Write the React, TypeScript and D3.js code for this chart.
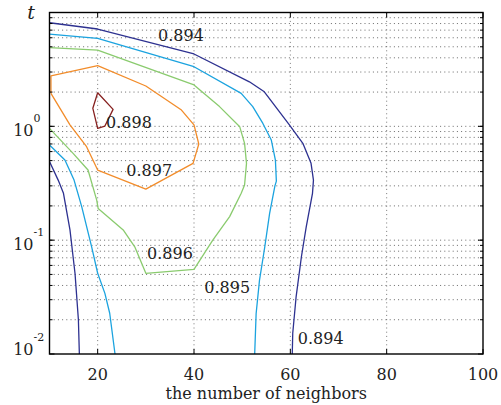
import React from "react";
import * as d3 from "d3";

const levels = ["0.894", "0.895", "0.896", "0.897", "0.898"];
const levelColors = ["#2d3190", "#1ba3df", "#8acb6e", "#f28c2a", "#86201f"];

// contour polylines: [neighbors, t]
const c894Top: [number, number][] = [
  [10, 8.13], [20, 7.16], [40, 4.32], [51.5, 2.46], [54.6, 2.01], [59.8, 1.03],
  [62.6, 0.709], [64.3, 0.473], [64.8, 0.337], [64.7, 0.294], [64.6, 0.258],
  [63.3, 0.131], [62.3, 0.0715], [61.2, 0.0318], [60.5, 0.0152], [60.4, 0.01],
];
const c894Left: [number, number][] = [
  [10, 0.49], [11.8, 0.337], [12.9, 0.258], [14.25, 0.123], [15.3, 0.051],
  [16.0, 0.02], [16.2, 0.01],
];
const c895Top: [number, number][] = [
  [10, 6.47], [20, 5.93], [40, 3.34], [49.8, 1.95], [52.2, 1.49], [54.3, 1.06],
  [56.05, 0.758], [56.9, 0.506], [57.1, 0.33], [56.8, 0.3], [55.7, 0.172],
  [54.7, 0.0875], [53.6, 0.0446], [52.9, 0.0227], [52.6, 0.01],
];
const c895Left: [number, number][] = [
  [10, 0.685], [13.2, 0.506], [15.1, 0.337], [16.7, 0.196], [18.75, 0.0874],
  [20, 0.0512], [21.5, 0.0341], [22.5, 0.0228], [23.6, 0.01],
];
const c896: [number, number][] = [
  [10, 4.91], [20, 4.68], [40, 2.31], [45.3, 1.49], [49.5, 0.99], [50.5, 0.709],
  [50.9, 0.473], [50.5, 0.305], [49.8, 0.258], [47.4, 0.161], [43.9, 0.1],
  [40, 0.0554], [30, 0.0511], [27.7, 0.0875], [25.3, 0.123], [20.1, 0.19],
  [19.8, 0.225], [18.0, 0.413], [14.9, 0.579], [10, 0.96],
];
const c897: [number, number][] = [
  [10.3, 1.95], [10.3, 2.77], [20, 3.41], [30, 2.26], [37.4, 1.39], [40, 1.03],
  [41, 0.699], [39.8, 0.473], [30, 0.281], [20, 0.413], [17.7, 0.662],
  [14.25, 1.03], [10.3, 1.95],
];
const c898: [number, number][] = [
  [20, 1.97], [19, 1.44], [20, 0.96], [21.5, 1.006], [23.2, 1.41], [20, 1.97],
];

const contourLines: { level: number; pts: [number, number][] }[] = [
  { level: 0, pts: c894Top },
  { level: 0, pts: c894Left },
  { level: 1, pts: c895Top },
  { level: 1, pts: c895Left },
  { level: 2, pts: c896 },
  { level: 3, pts: c897 },
  { level: 4, pts: c898 },
];

// contour labels: [neighbors, t, text]
const labelX = [37.3, 26.5, 30.7, 35, 46.9, 66.3];
const labelT = [5.62, 0.966, 0.366, 0.0682, 0.0343, 0.0122];
const labelText = ["0.894", "0.898", "0.897", "0.896", "0.895", "0.894"];

const xTicks = [20, 40, 60, 80, 100];
const xGrid = [20, 40, 60, 80];
const yMajor = [0.01, 0.1, 1];
const yExp = ["-2", "-1", "0"];

const W = 501, H = 405;
const L = 49.5, R = 483, T = 12.5, B = 354;
const FONT = "DejaVu Serif";

export default function App() {
  const x = d3.scaleLinear().domain([10, 100]).range([L, R]);
  const y = d3.scaleLog().domain([0.01, 10]).range([B, T]);
  const line = d3
    .line<[number, number]>()
    .x((d) => x(d[0]))
    .y((d) => y(d[1]));

  const minor: number[] = [];
  for (let d = -2; d <= 0; d++) {
    for (let k = 1; k <= 9; k++) {
      const v = k * Math.pow(10, d);
      if (v > 0.0100001) minor.push(v);
    }
  }

  return (
    <svg
      width={W}
      height={H}
      style={{ position: "absolute", left: 0, top: 0, background: "#fff" }}
      fontFamily={FONT}
    >
      <rect x={0} y={0} width={W} height={H} fill="#fff" />
      {/* horizontal grid */}
      {minor.map((v, i) => (
        <line
          key={"h" + i}
          x1={L}
          x2={R}
          y1={y(v)}
          y2={y(v)}
          stroke="#444"
          strokeWidth={0.8}
          strokeDasharray="1,3.2"
        />
      ))}
      {xGrid.map((v, i) => (
        <line
          key={"v" + i}
          x1={x(v)}
          x2={x(v)}
          y1={T}
          y2={B}
          stroke="#555"
          strokeWidth={0.8}
          strokeDasharray="1,3.2"
        />
      ))}
      {/* contours */}
      {contourLines.map((c, i) => (
        <path
          key={"c" + i}
          d={line(c.pts) || ""}
          fill="none"
          stroke={levelColors[c.level]}
          strokeWidth={1.3}
          strokeLinejoin="round"
        />
      ))}
      {/* labels */}
      {labelText.map((t, i) => (
        <text
          key={"l" + i}
          x={x(labelX[i])}
          y={y(labelT[i])}
          textAnchor="middle"
          fontSize={16}
          fill="#222"
        >
          {t}
        </text>
      ))}
      {/* ticks */}
      {minor.map((v, i) => (
        <g key={"mt" + i}>
          <line x1={L} x2={L + 3} y1={y(v)} y2={y(v)} stroke="#000" strokeWidth={1} />
          <line x1={R} x2={R - 3} y1={y(v)} y2={y(v)} stroke="#000" strokeWidth={1} />
        </g>
      ))}
      {yMajor.map((v, i) => (
        <g key={"Mt" + i}>
          <line x1={L} x2={L + 5} y1={y(v)} y2={y(v)} stroke="#000" strokeWidth={1} />
          <line x1={R} x2={R - 5} y1={y(v)} y2={y(v)} stroke="#000" strokeWidth={1} />
        </g>
      ))}
      {xTicks.map((v, i) => (
        <g key={"xt" + i}>
          <line x1={x(v)} x2={x(v)} y1={B} y2={B - 5} stroke="#000" strokeWidth={1} />
          <line x1={x(v)} x2={x(v)} y1={T} y2={T + 5} stroke="#000" strokeWidth={1} />
          <text x={x(v)} y={B + 26} textAnchor="middle" fontSize={16} fill="#222">
            {v}
          </text>
        </g>
      ))}
      {/* y tick labels */}
      {yMajor.map((v, i) => {
        const base = i === 0 ? y(v) + 1 : y(v) + 10;
        return (
          <g key={"yl" + i}>
            <text x={33.5} y={base} textAnchor="end" fontSize={16} fill="#222">
              10
            </text>
            <text x={33.5} y={base - 14} textAnchor="start" fontSize={11} fill="#222">
              {yExp[i]}
            </text>
          </g>
        );
      })}
      {/* frame */}
      <rect x={L} y={T} width={R - L} height={B - T} fill="none" stroke="#000" strokeWidth={1.4} />
      {/* axis labels */}
      <text x={(L + R) / 2} y={399} textAnchor="middle" fontSize={16} fill="#222">
        the number of neighbors
      </text>
      <text x={31} y={19} textAnchor="middle" fontSize={19} fontStyle="italic" fill="#222">
        t
      </text>
    </svg>
  );
}
